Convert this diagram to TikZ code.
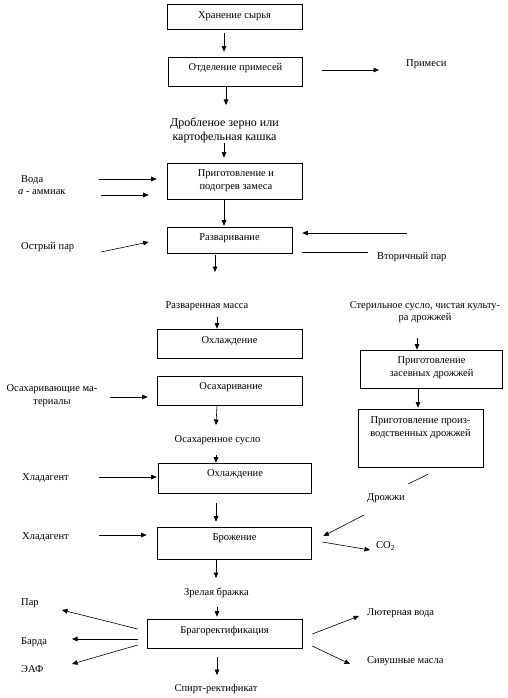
\documentclass[tikz,border=0pt]{standalone}
\usepackage{fontspec}
\setmainfont{Liberation Serif}
\usetikzlibrary{arrows.meta}
\begin{document}
\begin{tikzpicture}[x=1pt,y=-1pt,
  box/.style={draw, line width=0.6pt, inner sep=0pt},
  txt/.style={inner sep=0pt, align=center, font=\fontsize{10.5pt}{13pt}\selectfont},
  side/.style={txt, anchor=west, align=left},
  arr/.style={line width=0.6pt, -{Triangle[length=5.5pt,width=4.6pt]}},
  ln/.style={line width=0.6pt}]
\useasboundingbox (0,0) rectangle (508,698);
% boxes
\node[box, minimum width=135pt, minimum height=25pt] (b1) at (234.5,16.5) {};
\node[box, minimum width=134pt, minimum height=29pt] (b2) at (235,71.5) {};
\node[box, minimum width=135pt, minimum height=36pt] (b3) at (234.5,181) {};
\node[box, minimum width=125pt, minimum height=26pt] (b4) at (229.5,240) {};
\node[box, minimum width=145pt, minimum height=29pt] (b5) at (229.5,343.5) {};
\node[box, minimum width=145pt, minimum height=29pt] (b6) at (229.5,390.5) {};
\node[box, minimum width=153pt, minimum height=30pt] (b7) at (234.5,478) {};
\node[box, minimum width=154pt, minimum height=32pt] (b8) at (234,543) {};
\node[box, minimum width=155pt, minimum height=29pt] (b9) at (224.5,633.5) {};
\node[box, minimum width=142pt, minimum height=38pt] (b10) at (431,369) {};
\node[box, minimum width=125pt, minimum height=58pt] (b11) at (420.5,438) {};
% box texts
\node[txt] (t1) at (234.5,16) {Хранение сырья};
\node[txt] (t2) at (235.5,68) {Отделение примесей};
\node[txt] (t3) at (236,180.5) {Приготовление и\\подогрев замеса};
\node[txt] (t4) at (229.5,238) {Разваривание};
\node[txt] (t5) at (229.5,341) {Охлаждение};
\node[txt] (t6) at (231,387) {Осахаривание};
\node[txt] (t7) at (235,474) {Охлаждение};
\node[txt] (t8) at (234.5,538) {Брожение};
\node[txt] (t9) at (224.5,631) {Брагоректификация};
\node[txt] (t10) at (431.5,367.5) {Приготовление\\засевных дрожжей};
\node[txt] (t11) at (420.5,427.5) {Приготовление произ-\\водственных дрожжей};
% free texts
\node[txt, font=\fontsize{12pt}{14pt}\selectfont] (drob) at (224.5,130) {Дробленое зерно или\\картофельная кашка};
\node[side] (prim) at (406,64) {Примеси};
\node[side] (voda) at (21,180) {Вода};
\node[side] (amm) at (18,192) {\textit{a} - аммиак};
\node[side] (ostr) at (21,247) {Острый пар};
\node[side] (vtor) at (377,257) {Вторичный пар};
\node[txt] (razv) at (207,306) {Разваренная масса};
\node[txt, font=\fontsize{10.5pt}{12pt}\selectfont] (ster) at (425,312) {Стерильное сусло, чистая культу-\\ра дрожжей};
\node[txt] (osm) at (52,395.5) {Осахаривающие ма-\\териалы};
\node[txt] (oss) at (217.5,440) {Осахаренное сусло};
\node[side] (hlad1) at (22,478) {Хладагент};
\node[side] (droz) at (367,498) {Дрожжи};
\node[side] (hlad2) at (22,537) {Хладагент};
\node[side] (co2) at (376,546) {CO\textsubscript{2}};
\node[txt] (zrel) at (216.5,593) {Зрелая бражка};
\node[side] (par) at (21,603) {Пар};
\node[side] (barda) at (21,642) {Барда};
\node[side] (eaf) at (21,669) {ЭАФ};
\node[side] (lyut) at (367,613) {Лютерная вода};
\node[side] (sivush) at (367,661) {Сивушные масла};
\node[txt] (spirt) at (216,689) {Спирт-ректификат};
% connectors
\draw[arr] ([shift={(-10.5,4)}]b1.south) -- ([shift={(-11,-5)}]b2.north);
\draw[arr] ([shift={(20,-1.5)}]b2.east) -- ([shift={(-27,6)}]prim.west);
\draw[arr] ([shift={(-9,0)}]b2.south) -- ([shift={(1.5,-25)}]drob.center);
\draw[arr] ([shift={(-0.5,13)}]drob.center) -- ([shift={(-10.5,-5)}]b3.north);
\draw[arr] ([shift={(78,-1)}]voda.west) -- ([shift={(-10,-2)}]b3.west);
\draw[arr] ([shift={(83,3)}]amm.west) -- ([shift={(-18,14)}]b3.west);
\draw[arr] ([shift={(-10.5,0)}]b3.south) -- ([shift={(-5.5,-1)}]b4.north);
\draw[arr] ([shift={(80,5)}]ostr.west) -- ([shift={(-18,2)}]b4.west);
\draw[arr] ([shift={(30,-24)}]vtor.west) -- ([shift={(10,-7)}]b4.east);
\draw[ln] ([shift={(10,12)}]b4.east) -- ([shift={(-9,-5)}]vtor.west);
\draw[arr] ([shift={(-14.5,2)}]b4.south) -- ([shift={(8,-34)}]razv.center);
\draw[arr] ([shift={(10,11)}]razv.center) -- ([shift={(-12.5,0)}]b5.north);
\draw[arr] ([shift={(-8,26)}]ster.center) -- ([shift={(-14,0)}]b10.north);
\draw[arr] ([shift={(-13,0)}]b10.south) -- ([shift={(-2.5,-1)}]b11.north);
\draw[arr] ([shift={(58,1.5)}]osm.center) -- ([shift={(-9,6.5)}]b6.west);
\draw[arr] ([shift={(-12.5,0)}]b6.south) -- ([shift={(-1.5,-15)}]oss.center);
\draw[arr] ([shift={(-1.5,15)}]oss.center) -- ([shift={(-18.5,0)}]b7.north);
\draw[arr] ([shift={(77,-1)}]hlad1.west) -- ([shift={(-1,-1)}]b7.west);
\draw[ln] ([shift={(7.5,7)}]b11.south) -- ([shift={(41,-14)}]droz.west);
\draw[arr] ([shift={(-18.5,10)}]b7.south) -- ([shift={(-18,-5)}]b8.north);
\draw[arr] ([shift={(77,-2)}]hlad2.west) -- ([shift={(-10,-8)}]b8.west);
\draw[arr] ([shift={(-3,17)}]droz.west) -- ([shift={(12,-7)}]b8.east);
\draw[arr] ([shift={(11,-1)}]b8.east) -- ([shift={(-6,4)}]co2.west);
\draw[arr] ([shift={(-18,1)}]b8.south) -- ([shift={(-0.5,-15)}]zrel.center);
\draw[arr] ([shift={(0.5,14)}]zrel.center) -- ([shift={(-7.5,-2)}]b9.north);
\draw[arr] ([shift={(-9,-4.5)}]b9.west) -- ([shift={(41,7)}]par.west);
\draw[arr] ([shift={(-9,5.5)}]b9.west) -- ([shift={(51,-3)}]barda.west);
\draw[arr] ([shift={(-9,11.5)}]b9.west) -- ([shift={(51,-5)}]eaf.west);
\draw[arr] ([shift={(-7.5,9)}]b9.south) -- ([shift={(1,-14)}]spirt.center);
\draw[arr] ([shift={(10,0.5)}]b9.east) -- ([shift={(-8,3)}]lyut.west);
\draw[arr] ([shift={(10,12.5)}]b9.east) -- ([shift={(-17,3)}]sivush.west);
\end{tikzpicture}
\end{document}
